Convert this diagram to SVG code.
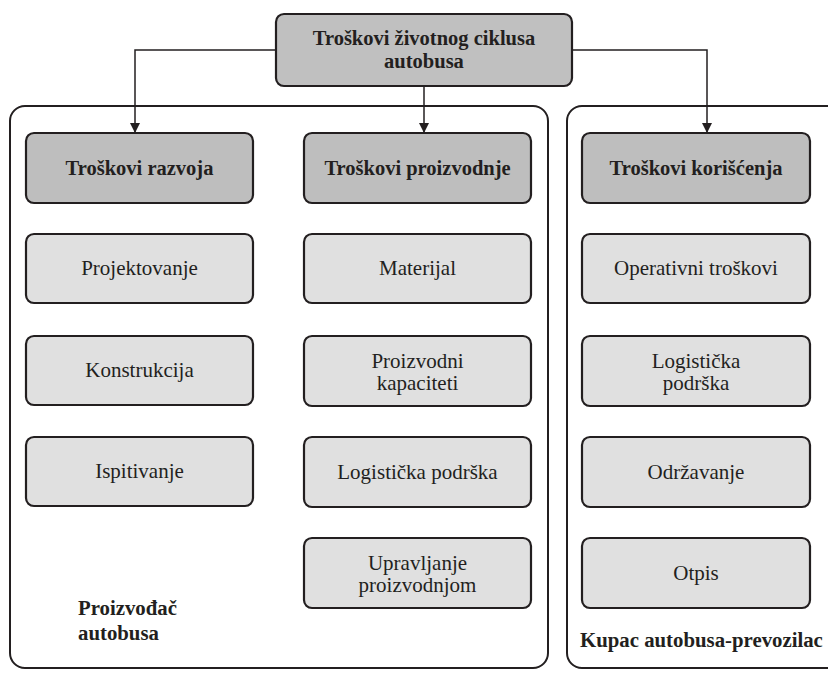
<svg xmlns="http://www.w3.org/2000/svg" width="828" height="673" viewBox="0 0 828 673">
<defs>
<marker id="arr" viewBox="0 0 10 10" refX="10" refY="5" markerWidth="10" markerHeight="10" markerUnits="userSpaceOnUse" orient="auto">
<path d="M0,0 L10,5 L0,10 z" fill="#231f20"/>
</marker>
<style>
.cont{fill:none;stroke:#231f20;stroke-width:2}
.top{fill:#c0c0c0;stroke:#231f20;stroke-width:2.2}
.hdr{fill:#bebebe;stroke:#231f20;stroke-width:2.2}
.sub{fill:#e0e0e0;stroke:#231f20;stroke-width:2.2}
text{font-family:'Liberation Serif','Times New Roman',serif;fill:#231f20}
.b{font-weight:bold;font-size:20.5px;text-anchor:middle}
.r{font-size:21px;text-anchor:middle}
.lbl{font-weight:bold;font-size:20.8px}
.con{fill:none;stroke:#231f20;stroke-width:1.5}
</style>
</defs>
<rect class="cont" x="10" y="106" width="538" height="562" rx="15"/>
<rect class="cont" x="567" y="106" width="300" height="562" rx="15"/>
<g id="connectors">
<path class="con" d="M276,50 H135 V133" marker-end="url(#arr)"/>
<path class="con" d="M572,50 H707 V133" marker-end="url(#arr)"/>
<path class="con" d="M424,86 V133" marker-end="url(#arr)"/>
</g>
<g id="n-root"><rect class="top" x="276" y="14" width="296" height="72" rx="8"/><text class="b" x="424" y="45">Troškovi životnog ciklusa</text><text class="b" x="424" y="68">autobusa</text></g>
<g id="n-razvoj"><rect class="hdr" x="26" y="133" width="227" height="70" rx="8"/><text class="b" x="139.5" y="175">Troškovi razvoja</text></g>
<g id="n-proizv"><rect class="hdr" x="304" y="133" width="227" height="70" rx="8"/><text class="b" x="417.5" y="175">Troškovi proizvodnje</text></g>
<g id="n-koris"><rect class="hdr" x="582" y="133" width="228" height="70" rx="8"/><text class="b" x="696" y="175">Troškovi korišćenja</text></g>
<g id="n-proj"><rect class="sub" x="26" y="234" width="227" height="69" rx="8"/><text class="r" x="139.5" y="275">Projektovanje</text></g>
<g id="n-konst"><rect class="sub" x="26" y="336" width="227" height="69" rx="8"/><text class="r" x="139.5" y="377">Konstrukcija</text></g>
<g id="n-ispit"><rect class="sub" x="26" y="437" width="227" height="69" rx="8"/><text class="r" x="139.5" y="478">Ispitivanje</text></g>
<g id="n-mat"><rect class="sub" x="304" y="234" width="227" height="69" rx="8"/><text class="r" x="417.5" y="275">Materijal</text></g>
<g id="n-kap"><rect class="sub" x="304" y="336" width="227" height="70" rx="8"/><text class="r" x="417.5" y="368">Proizvodni</text><text class="r" x="417.5" y="390">kapaciteti</text></g>
<g id="n-log1"><rect class="sub" x="304" y="437" width="227" height="70" rx="8"/><text class="r" x="417.5" y="479">Logistička podrška</text></g>
<g id="n-upr"><rect class="sub" x="304" y="538" width="227" height="70" rx="8"/><text class="r" x="417.5" y="570">Upravljanje</text><text class="r" x="417.5" y="592">proizvodnjom</text></g>
<g id="n-oper"><rect class="sub" x="582" y="234" width="228" height="69" rx="8"/><text class="r" x="696" y="275">Operativni troškovi</text></g>
<g id="n-log2"><rect class="sub" x="582" y="336" width="228" height="70" rx="8"/><text class="r" x="696" y="368">Logistička</text><text class="r" x="696" y="390">podrška</text></g>
<g id="n-odrz"><rect class="sub" x="582" y="437" width="228" height="70" rx="8"/><text class="r" x="696" y="479">Održavanje</text></g>
<g id="n-otpis"><rect class="sub" x="582" y="538" width="228" height="70" rx="8"/><text class="r" x="696" y="580">Otpis</text></g>
<text class="lbl" x="78" y="615">Proizvođač</text>
<text class="lbl" x="78" y="640">autobusa</text>
<text class="lbl" x="580" y="647">Kupac autobusa-prevozilac</text>
</svg>
